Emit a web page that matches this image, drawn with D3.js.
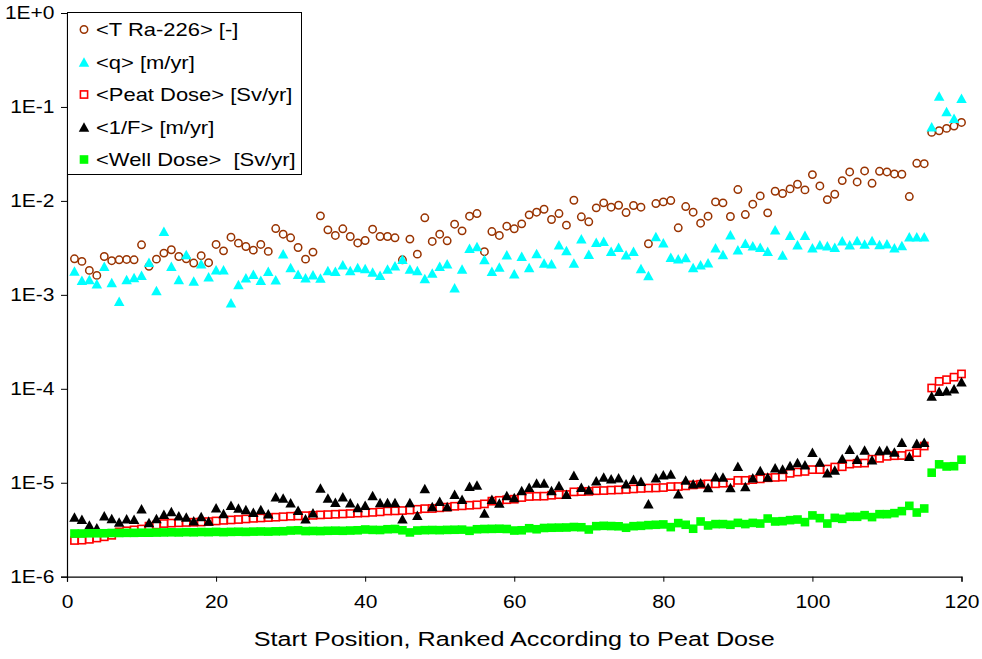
<!DOCTYPE html>
<html>
<head>
<meta charset="utf-8">
<script src="https://cdn.jsdelivr.net/npm/d3@7"></script>
<style>
  html, body { margin: 0; padding: 0; background: #fff; }
  svg { display: block; }
  text { font-family: "Liberation Sans", Arial, sans-serif; fill: #000; white-space: pre; }
</style>
</head>
<body>
<svg id="chart" width="982" height="659"></svg>
<script>
// Start positions 1..120, ranked by peat dose
const positions = d3.range(1, 121);

const xTicks = [0, 20, 40, 60, 80, 100, 120];
const yTicks = [1e-6, 1e-5, 1e-4, 1e-3, 1e-2, 1e-1, 1];
const yTickLabels = ["1E-6", "1E-5", "1E-4", "1E-3", "1E-2", "1E-1", "1E+0"];

const seriesNames = ["<T Ra-226> [-]", "<q> [m/yr]", "<Peat Dose> [Sv/yr]", "<1/F> [m/yr]", "<Well Dose>  [Sv/yr]"];
const xTitle = "Start Position, Ranked According to Peat Dose";

const tRa226 = [
  0.00242,0.00227,0.00182,0.00161,0.00256,0.00231,0.00236,0.00238,0.00236,0.00341,
  0.00201,0.00240,0.00278,0.00302,0.00256,0.00242,0.00218,0.00261,0.00220,0.00344,
  0.00294,0.00411,0.00355,0.00327,0.00299,0.00344,0.00290,0.00508,0.00442,0.00405,
  0.00319,0.00240,0.00285,0.00693,0.00492,0.00429,0.00505,0.00418,0.00357,0.00379,
  0.00500,0.00418,0.00418,0.00405,0.00236,0.00392,0.00271,0.00661,0.00370,0.00442,
  0.00376,0.00565,0.00480,0.00687,0.00733,0.00288,0.00472,0.00429,0.00538,0.00505,
  0.00570,0.00710,0.00758,0.00815,0.00634,0.00733,0.00552,0.01016,0.00677,0.00599,
  0.00843,0.00953,0.00857,0.00899,0.00752,0.00893,0.00857,0.00350,0.00937,0.00976,
  0.01009,0.00517,0.00871,0.00758,0.00579,0.00687,0.00976,0.00953,0.00682,0.01320,
  0.00716,0.00922,0.01130,0.00746,0.01267,0.01197,0.01342,0.01504,0.01310,0.01905,
  0.01443,0.01033,0.01177,0.01644,0.02033,0.01592,0.02084,0.01539,0.02065,0.02033,
  0.01936,0.01921,0.01112,0.02512,0.02490,0.0536,0.0558,0.0591,0.0626,0.0684
];

const q = [
  0.00179,0.00143,0.00146,0.00131,0.00201,0.00135,0.000853,0.00146,0.00153,0.00162,
  0.00223,0.00111,0.00476,0.00202,0.00146,0.00269,0.00140,0.00214,0.00156,0.00185,
  0.00185,0.000826,0.00129,0.00152,0.00166,0.00143,0.00178,0.00145,0.00274,0.00195,
  0.00166,0.00152,0.00164,0.00151,0.00182,0.00178,0.00209,0.00182,0.00195,0.00191,
  0.00175,0.00162,0.00188,0.00204,0.00240,0.00188,0.00182,0.00149,0.00171,0.00201,
  0.00214,0.00119,0.00188,0.00314,0.00327,0.00238,0.00178,0.00198,0.00267,0.00168,
  0.00258,0.00195,0.00276,0.00218,0.00214,0.00341,0.00297,0.00218,0.00395,0.00271,
  0.00364,0.00373,0.00292,0.00322,0.00267,0.00292,0.00191,0.00161,0.00418,0.00358,
  0.00252,0.00242,0.00250,0.00195,0.00209,0.00220,0.00317,0.00269,0.00436,0.00302,
  0.00355,0.00333,0.00322,0.00292,0.00492,0.00265,0.00432,0.00341,0.00432,0.00317,
  0.00341,0.00333,0.00322,0.00376,0.00341,0.00379,0.00347,0.00379,0.00344,0.00349,
  0.00317,0.00336,0.00415,0.00415,0.00415,0.0615,0.131,0.0895,0.076,0.124
];

const peatDose = [
  2.43e-6,2.45e-6,2.50e-6,2.58e-6,2.66e-6,2.76e-6,3.00e-6,3.08e-6,3.15e-6,3.22e-6,
  3.45e-6,3.55e-6,3.68e-6,3.72e-6,3.75e-6,3.78e-6,3.80e-6,3.82e-6,3.86e-6,3.92e-6,
  3.98e-6,4.02e-6,4.06e-6,4.12e-6,4.18e-6,4.22e-6,4.26e-6,4.30e-6,4.35e-6,4.40e-6,
  4.43e-6,4.46e-6,4.50e-6,4.55e-6,4.58e-6,4.62e-6,4.66e-6,4.70e-6,4.75e-6,4.78e-6,
  4.84e-6,4.90e-6,5.00e-6,5.02e-6,5.06e-6,5.12e-6,5.22e-6,5.30e-6,5.32e-6,5.41e-6,
  5.50e-6,5.62e-6,5.68e-6,5.76e-6,5.82e-6,5.96e-6,6.37e-6,6.50e-6,6.60e-6,6.68e-6,
  6.96e-6,7.14e-6,7.18e-6,7.20e-6,7.36e-6,7.47e-6,7.50e-6,8.00e-6,8.05e-6,8.10e-6,
  8.22e-6,8.26e-6,8.35e-6,8.40e-6,8.48e-6,8.60e-6,8.70e-6,8.78e-6,8.81e-6,8.89e-6,
  9.10e-6,9.12e-6,9.26e-6,9.48e-6,9.64e-6,9.73e-6,9.75e-6,9.89e-6,1.00e-5,1.06e-5,
  1.06e-5,1.08e-5,1.10e-5,1.13e-5,1.14e-5,1.15e-5,1.26e-5,1.30e-5,1.32e-5,1.38e-5,
  1.38e-5,1.40e-5,1.47e-5,1.48e-5,1.58e-5,1.61e-5,1.62e-5,1.78e-5,1.82e-5,1.91e-5,
  1.94e-5,1.95e-5,2.02e-5,2.09e-5,2.46e-5,1.02e-4,1.20e-4,1.25e-4,1.33e-4,1.44e-4
];

const invF = [
  4.31e-6,4.10e-6,3.54e-6,3.32e-6,4.45e-6,4.16e-6,3.81e-6,4.13e-6,4.10e-6,5.28e-6,
  3.77e-6,4.16e-6,4.63e-6,4.94e-6,4.45e-6,4.31e-6,3.94e-6,4.37e-6,3.91e-6,5.41e-6,
  4.71e-6,5.77e-6,5.37e-6,5.19e-6,4.86e-6,5.19e-6,4.67e-6,7.08e-6,6.90e-6,6.11e-6,
  5.11e-6,4.13e-6,4.79e-6,8.81e-6,6.90e-6,6.21e-6,7.08e-6,6.11e-6,5.45e-6,5.77e-6,
  7.31e-6,6.16e-6,6.16e-6,6.16e-6,4.13e-6,6.16e-6,4.52e-6,8.67e-6,5.58e-6,6.37e-6,
  5.58e-6,7.55e-6,6.68e-6,9.18e-6,9.48e-6,4.75e-6,6.68e-6,6.07e-6,7.31e-6,6.96e-6,
  8.26e-6,8.96e-6,9.96e-6,9.96e-6,8.26e-6,9.33e-6,7.55e-6,1.20e-5,8.96e-6,8.40e-6,
  1.05e-5,1.15e-5,1.10e-5,1.13e-5,9.73e-6,1.09e-5,1.04e-5,5.96e-6,1.13e-5,1.22e-5,
  1.24e-5,7.62e-6,1.07e-5,9.73e-6,1.00e-5,8.89e-6,1.16e-5,1.15e-5,8.89e-6,1.50e-5,
  9.10e-6,1.13e-5,1.35e-5,1.15e-5,1.44e-5,1.40e-5,1.53e-5,1.64e-5,1.55e-5,2.11e-5,
  1.66e-5,1.28e-5,1.37e-5,1.81e-5,2.27e-5,1.78e-5,2.23e-5,1.76e-5,2.21e-5,2.23e-5,
  2.13e-5,2.69e-5,1.91e-5,2.63e-5,2.69e-5,8.36e-5,9.44e-5,9.52e-5,1.00e-4,1.19e-4
];

const wellDose = [
  2.88e-6,2.88e-6,2.90e-6,2.90e-6,2.90e-6,2.92e-6,2.92e-6,2.93e-6,2.93e-6,2.94e-6,
  2.94e-6,2.95e-6,2.96e-6,2.97e-6,2.96e-6,2.98e-6,2.97e-6,2.99e-6,2.98e-6,3.00e-6,
  2.98e-6,3.00e-6,3.01e-6,3.00e-6,3.02e-6,3.03e-6,3.02e-6,3.04e-6,3.05e-6,3.10e-6,
  3.12e-6,3.06e-6,3.07e-6,3.06e-6,3.08e-6,3.09e-6,3.08e-6,3.10e-6,3.12e-6,3.18e-6,
  3.15e-6,3.14e-6,3.20e-6,3.22e-6,3.12e-6,2.96e-6,3.10e-6,3.13e-6,3.14e-6,3.13e-6,
  3.15e-6,3.16e-6,3.17e-6,3.08e-6,3.20e-6,3.22e-6,3.23e-6,3.24e-6,3.22e-6,3.10e-6,
  3.12e-6,3.28e-6,3.20e-6,3.30e-6,3.32e-6,3.33e-6,3.34e-6,3.38e-6,3.36e-6,3.18e-6,
  3.45e-6,3.48e-6,3.46e-6,3.44e-6,3.32e-6,3.45e-6,3.48e-6,3.54e-6,3.57e-6,3.60e-6,
  3.37e-6,3.72e-6,3.57e-6,3.24e-6,3.87e-6,3.51e-6,3.63e-6,3.63e-6,3.57e-6,3.74e-6,
  3.63e-6,3.74e-6,3.68e-6,4.16e-6,3.87e-6,3.90e-6,4.00e-6,4.06e-6,3.81e-6,4.49e-6,
  4.20e-6,3.68e-6,4.23e-6,4.13e-6,4.34e-6,4.34e-6,4.52e-6,4.31e-6,4.63e-6,4.63e-6,
  4.75e-6,4.99e-6,5.68e-6,4.82e-6,5.32e-6,1.28e-5,1.57e-5,1.49e-5,1.50e-5,1.76e-5
];

// ---- layout ----
const plot = { left: 67, right: 961.5, top: 13, bottom: 576.7 };
const textStretch = 1.2;   // glyphs are drawn slightly wide

const svg = d3.select("#chart");

const x = d3.scaleLinear().domain([0, 120]).range([plot.left, plot.right]);
const y = d3.scaleLog().domain([1e-6, 1]).range([plot.bottom, plot.top]);

// ---- axes ----
const yAxis = d3.axisLeft(y)
  .tickValues(yTicks)
  .tickFormat((d, i) => yTickLabels[i])
  .tickSize(6).tickPadding(5);
const gy = svg.append("g").attr("transform", `translate(${plot.left},0)`).call(yAxis);

const xAxis = d3.axisBottom(x)
  .tickValues(xTicks)
  .tickFormat(d3.format("d"))
  .tickSize(5).tickPadding(14);
const gx = svg.append("g").attr("transform", `translate(0,${plot.bottom})`).call(xAxis);

[gx, gy].forEach(g => {
  g.select(".domain").attr("stroke", "#000").attr("stroke-width", 1.2);
  g.selectAll(".tick line").attr("stroke", "#000").attr("stroke-width", 1);
  g.selectAll(".tick text")
    .attr("font-family", "Liberation Sans, Arial, sans-serif")
    .attr("font-size", 17.5)
    .attr("fill", "#000");
});
gy.selectAll(".tick text").each(function () {
  const t = d3.select(this);
  const xx = +t.attr("x");
  t.attr("x", null).attr("transform", `translate(${xx - 1.5},0) scale(${textStretch},1)`);
});
gx.selectAll(".tick text").attr("transform", `scale(${textStretch},1)`);

// axis title
svg.append("text")
  .attr("transform", `translate(${(plot.left + plot.right) / 2},646) scale(${textStretch},1)`)
  .attr("text-anchor", "middle")
  .attr("font-size", 21)
  .text(xTitle);

// ---- marker shapes ----
function triPath(w, h) {
  return `M0,${-h / 2}L${w / 2},${h / 2}L${-w / 2},${h / 2}Z`;
}
const markerStyles = [
  { kind: "circle", stroke: "#993300", fill: "none" },
  { kind: "tri", fill: "#00FFFF" },
  { kind: "openSquare", stroke: "#FF0000", fill: "#FFFFFF" },
  { kind: "tri", fill: "#000000" },
  { kind: "square", fill: "#00FF00" }
];

function drawMarker(g, style) {
  if (style.kind === "circle") {
    g.append("circle").attr("r", 3.7)
      .attr("fill", style.fill).attr("stroke", style.stroke).attr("stroke-width", 1.5);
  } else if (style.kind === "tri") {
    g.append("path").attr("d", triPath(10.5, 9.5)).attr("fill", style.fill);
  } else if (style.kind === "openSquare") {
    g.append("rect").attr("x", -3.6).attr("y", -3.6).attr("width", 7.2).attr("height", 7.2)
      .attr("fill", style.fill).attr("stroke", style.stroke).attr("stroke-width", 1.6);
  } else {
    g.append("rect").attr("x", -4.3).attr("y", -4.3).attr("width", 8.6).attr("height", 8.6)
      .attr("fill", style.fill);
  }
}

// ---- series ----
const seriesValues = [tRa226, q, peatDose, invF, wellDose];
seriesValues.forEach((vals, s) => {
  const layer = svg.append("g").attr("class", "series-" + s);
  const pts = layer.selectAll("g.pt")
    .data(positions.map((p, i) => ({ p, v: vals[i] })))
    .join("g")
    .attr("class", "pt")
    .attr("transform", d => `translate(${x(d.p)},${y(d.v)})`);
  pts.each(function () { drawMarker(d3.select(this), markerStyles[s]); });
});

// ---- legend ----
const legend = svg.append("g");
legend.append("rect")
  .attr("x", 67.5).attr("y", 12.5).attr("width", 234).attr("height", 162)
  .attr("fill", "#fff").attr("stroke", "#000").attr("stroke-width", 1);
const rowY = [29.5, 62, 94.5, 127, 159.5];
seriesNames.forEach((name, i) => {
  const m = legend.append("g").attr("transform", `translate(84,${rowY[i]})`);
  drawMarker(m, markerStyles[i]);
  legend.append("text")
    .attr("transform", `translate(96,${rowY[i] + 6.5}) scale(1.22,1)`)
    .attr("font-size", 18)
    .text(name);
});
</script>
</body>
</html>
